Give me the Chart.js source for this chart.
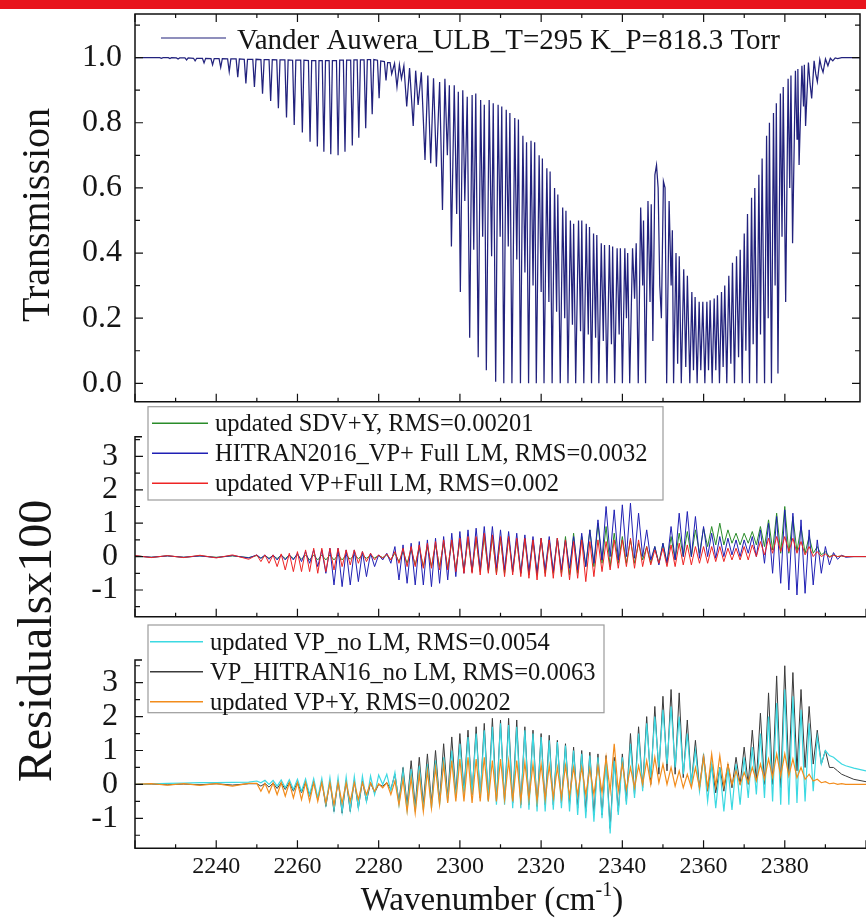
<!DOCTYPE html>
<html>
<head>
<meta charset="utf-8">
<script src="https://cdn.jsdelivr.net/npm/chart.js@4.4.0/dist/chart.umd.min.js"></script>
<style>
  html, body { margin: 0; padding: 0; background: #fff; }
  #wrap { position: relative; width: 866px; height: 919px; overflow: hidden; }
  #redbar { position: absolute; left: 0; top: 0; width: 866px; height: 9px; background: #e8141c; }
  canvas { position: absolute; left: 0; }
  #c1 { top: 0; }
  #c2 { top: 400px; }
  #c3 { top: 616px; }
</style>
</head>
<body>
<div id="wrap">
  <canvas id="c1" width="866" height="405"></canvas>
  <canvas id="c2" width="866" height="519"></canvas>
  <canvas id="c3" width="866" height="303"></canvas>
  <div id="redbar"></div>
</div>
<script>
const serif = "'Liberation Serif', 'Times New Roman', serif";

const transWn = [
  2220.0,
  2226.1, 2226.5, 2226.9, 2228.2, 2228.6, 2229.0, 2230.2, 2230.6, 2231.0,
  2232.3, 2232.7, 2233.1, 2234.4, 2234.8, 2235.2, 2236.6, 2237.0, 2237.4,
  2238.7, 2239.1, 2239.5, 2240.7, 2241.1, 2241.5, 2242.8, 2243.2, 2243.6,
  2244.9, 2245.3, 2245.7, 2246.9, 2247.3, 2247.7, 2249.0, 2249.4, 2249.8,
  2251.0, 2251.4, 2251.8, 2253.0, 2253.4, 2253.8, 2254.9, 2255.3, 2255.7,
  2256.9, 2257.3, 2257.7, 2258.8, 2259.2, 2259.6, 2260.8, 2261.2, 2261.6,
  2262.7, 2263.1, 2263.5, 2264.5, 2264.9, 2265.3, 2266.1, 2266.5, 2266.9,
  2267.8, 2268.2, 2268.6, 2269.6, 2270.0, 2270.4, 2271.3, 2271.7, 2272.1,
  2273.1, 2273.5, 2273.9, 2274.7, 2275.1, 2275.5, 2276.4, 2276.8, 2277.2,
  2278.0, 2278.4, 2278.8, 2279.7, 2280.1, 2280.5, 2281.4, 2281.8, 2282.2,
  2282.8, 2283.2,
  2283.9, 2284.5, 2285.1, 2285.6, 2286.2, 2286.9, 2287.6, 2288.5, 2289.1, 2289.7,
  2290.5, 2291.4, 2292.1, 2292.8, 2293.5, 2294.2, 2295.0, 2295.7, 2296.3, 2296.9,
  2297.4, 2297.9, 2298.6, 2299.2, 2299.6, 2300.1, 2300.7, 2301.2, 2301.8, 2302.4,
  2303.0, 2303.4, 2303.9, 2304.5, 2305.1, 2305.6, 2306.0, 2306.5, 2307.2, 2307.8,
  2308.2, 2308.8, 2309.4, 2309.9, 2310.3, 2310.8, 2311.4, 2311.9, 2312.3, 2312.8,
  2313.5, 2314.0, 2314.4, 2314.9, 2315.5, 2316.0, 2316.4, 2316.9, 2317.5, 2318.0,
  2318.4, 2318.8, 2319.5, 2320.0, 2320.3, 2320.7, 2321.4, 2321.9, 2322.2, 2322.7,
  2323.3, 2323.8, 2324.1, 2324.7, 2325.3, 2325.8, 2326.1, 2326.6, 2327.2, 2327.7,
  2328.0, 2328.5, 2329.2, 2329.7, 2330.0, 2330.5, 2331.1, 2331.6, 2331.9, 2332.4,
  2332.9, 2333.4, 2333.7, 2334.2, 2334.8, 2335.3, 2335.6, 2336.2, 2336.8, 2337.3,
  2337.6, 2338.1, 2338.7, 2339.2, 2339.5, 2340.0, 2340.6, 2341.0, 2341.3, 2341.8,
  2342.5, 2343.0, 2343.4, 2343.9, 2344.5, 2345.0, 2345.2, 2345.7, 2346.3, 2346.8,
  2347.1, 2347.5, 2348.0, 2348.4, 2348.8, 2349.2, 2349.6, 2350.1, 2350.5, 2350.9,
  2351.5, 2352.0, 2352.3, 2352.6,
  2353.2, 2353.6, 2354.0, 2354.5, 2355.1, 2355.6, 2356.0, 2356.6, 2357.1, 2357.5,
  2357.9, 2358.4, 2358.9, 2359.3, 2359.8, 2360.3, 2360.8, 2361.2, 2361.6, 2362.1,
  2362.6, 2363.0, 2363.4, 2363.9, 2364.4, 2364.8, 2365.2, 2365.7, 2366.2, 2366.7,
  2367.1, 2367.6, 2368.1, 2368.6, 2369.0, 2369.5, 2370.0, 2370.4, 2370.8, 2371.3,
  2371.8, 2372.2, 2372.6, 2373.1, 2373.6, 2374.0, 2374.4, 2375.0, 2375.5, 2375.9,
  2376.2, 2376.7, 2377.2, 2377.6, 2377.9, 2378.3, 2378.9, 2379.3, 2379.6, 2380.2,
  2380.8, 2381.2, 2381.5, 2381.9, 2382.6, 2383.0, 2383.2, 2383.5, 2384.2, 2384.6,
  2384.8, 2385.1, 2385.8, 2386.2, 2386.6, 2387.2, 2387.6, 2388.0, 2388.6, 2389.0,
  2389.4, 2390.0, 2390.6, 2391.2, 2391.8, 2392.4, 2393.0, 2394.0, 2400.0
];
const transT = [
  1.000,
  1.000, 0.998, 1.000, 1.000, 0.997, 1.000, 0.999, 0.996, 0.999,
  0.999, 0.993, 0.999, 0.998, 0.990, 0.998, 0.998, 0.984, 0.998,
  0.997, 0.978, 0.997, 0.997, 0.970, 0.997, 0.996, 0.957, 0.996,
  0.996, 0.940, 0.996, 0.995, 0.921, 0.995, 0.995, 0.910, 0.995,
  0.994, 0.889, 0.994, 0.994, 0.867, 0.994, 0.993, 0.845, 0.993,
  0.993, 0.816, 0.993, 0.992, 0.793, 0.992, 0.992, 0.770, 0.992,
  0.991, 0.742, 0.991, 0.991, 0.727, 0.991, 0.991, 0.711, 0.991,
  0.991, 0.703, 0.991, 0.991, 0.700, 0.992, 0.992, 0.711, 0.992,
  0.992, 0.730, 0.993, 0.993, 0.754, 0.993, 0.993, 0.783, 0.994,
  0.994, 0.826, 0.994, 0.992, 0.875, 0.990, 0.988, 0.930, 0.985,
  0.985, 0.950,
  0.982, 0.910, 0.978, 0.935, 0.975, 0.850, 0.968, 0.790, 0.960, 0.855,
  0.955, 0.686, 0.945, 0.676, 0.937, 0.665, 0.925, 0.532, 0.935, 0.700,
  0.915, 0.420, 0.915, 0.520, 0.895, 0.280, 0.900, 0.560, 0.880, 0.140,
  0.885, 0.410, 0.890, 0.080, 0.870, 0.450, 0.855, 0.040, 0.870, 0.390,
  0.860, 0.005, 0.855, 0.450, 0.850, 0.000, 0.840, 0.420, 0.830, 0.000,
  0.815, 0.380, 0.810, 0.000, 0.760, 0.340, 0.740, 0.000, 0.745, 0.300,
  0.740, 0.000, 0.700, 0.280, 0.690, 0.000, 0.660, 0.250, 0.650, 0.000,
  0.600, 0.220, 0.580, 0.000, 0.540, 0.200, 0.530, 0.000, 0.500, 0.180,
  0.490, 0.000, 0.500, 0.160, 0.500, 0.000, 0.490, 0.150, 0.480, 0.000,
  0.460, 0.140, 0.455, 0.000, 0.430, 0.130, 0.425, 0.000, 0.425, 0.120,
  0.420, 0.000, 0.415, 0.150, 0.415, 0.000, 0.415, 0.200, 0.400, 0.000,
  0.415, 0.260, 0.430, 0.000, 0.540, 0.300, 0.500, 0.000, 0.560, 0.250,
  0.550, 0.130, 0.640, 0.670, 0.600, 0.300, 0.200, 0.620, 0.600, 0.000,
  0.560, 0.300, 0.470, 0.000,
  0.400, 0.060, 0.390, 0.000, 0.350, 0.050, 0.330, 0.000, 0.280, 0.040,
  0.265, 0.000, 0.250, 0.040, 0.250, 0.000, 0.250, 0.040, 0.255, 0.000,
  0.260, 0.040, 0.270, 0.000, 0.280, 0.050, 0.300, 0.000, 0.330, 0.060,
  0.370, 0.000, 0.390, 0.080, 0.410, 0.000, 0.460, 0.100, 0.520, 0.000,
  0.570, 0.120, 0.600, 0.000, 0.640, 0.150, 0.690, 0.000, 0.760, 0.200,
  0.800, 0.000, 0.830, 0.300, 0.860, 0.030, 0.890, 0.450, 0.910, 0.250,
  0.935, 0.600, 0.945, 0.430, 0.960, 0.750, 0.965, 0.670, 0.975, 0.850,
  0.978, 0.790, 0.985, 0.920, 0.875, 0.990, 0.950, 0.926, 0.994, 0.970,
  0.955, 0.996, 0.975, 0.998, 0.990, 0.999, 0.997, 1.000, 1.000
];

// Residual panels: shared wavenumber grid
const resWn = [
  2220, 2224, 2228, 2232, 2236, 2240, 2244, 2248,
  2250, 2251, 2252, 2253, 2254, 2255, 2256, 2257, 2258, 2259,
  2260, 2261, 2262, 2263, 2264, 2265, 2266, 2267, 2268, 2269,
  2270, 2271, 2272, 2273, 2274, 2275, 2276, 2277, 2278, 2279,
  2280, 2281, 2282, 2283, 2284, 2285, 2286, 2287, 2288, 2289,
  2290, 2291, 2292, 2293, 2294, 2295, 2296, 2297, 2298, 2299,
  2300, 2301, 2302, 2303, 2304, 2305, 2306, 2307, 2308, 2309,
  2310, 2311, 2312, 2313, 2314, 2315, 2316, 2317, 2318, 2319,
  2320, 2321, 2322, 2323, 2324, 2325, 2326, 2327, 2328, 2329,
  2330, 2331, 2332, 2333, 2334, 2335, 2336, 2337, 2338, 2339,
  2340, 2341, 2342, 2343, 2344, 2345, 2346, 2347, 2348, 2349,
  2350, 2351, 2352, 2353, 2354, 2355, 2356, 2357, 2358, 2359,
  2360, 2361, 2362, 2363, 2364, 2365, 2366, 2367, 2368, 2369,
  2370, 2371, 2372, 2373, 2374, 2375, 2376, 2377, 2378, 2379,
  2380, 2381, 2382, 2383, 2384, 2385, 2386, 2387, 2388, 2389,
  2390, 2391, 2392, 2393, 2394, 2395,
  2397, 2400
];

// Middle panel residuals x100
const resSdvY = [
  0.02, -0.02, 0.02, -0.02, 0.02, -0.02, 0.02, -0.03,
  0.03, -0.05, 0.03, -0.05, 0.03, -0.06, 0.04, -0.06, 0.04, -0.06,
  0.05, -0.08, 0.05, -0.1, 0.05, -0.1, 0.05, -0.1, 0.05, -0.1,
  0.05, -0.1, 0.05, -0.08, 0.05, -0.06, 0.04, -0.05, 0.03, -0.04,
  0.03, -0.03, 0.05, -0.1, 0.1, -0.15, 0.15, -0.2, 0.2, -0.25,
  0.25, -0.3, 0.3, -0.3, 0.35, -0.3, 0.4, -0.35, 0.45, -0.4,
  0.5, -0.4, 0.55, -0.45, 0.55, -0.45, 0.6, -0.45, 0.6, -0.5,
  0.55, -0.5, 0.6, -0.45, 0.5, -0.5, 0.55, -0.55, 0.5, -0.55,
  0.55, -0.5, 0.5, -0.5, 0.55, -0.5, 0.6, -0.55, 0.7, -0.5,
  0.6, -0.3, 0.8, -0.3, 1.0, -0.2, 0.9, -0.3, 0.7, -0.2,
  0.6, -0.2, 0.5, -0.2, 0.4, -0.1, 0.3, -0.2, 0.3, -0.2,
  0.4, -0.2, 0.6, -0.1, 0.7, 0.0, 0.75, 0.0, 0.8, 0.1,
  0.85, 0.3, 0.9, 0.35, 1.0, 0.35, 0.8, 0.4, 0.7, 0.35,
  0.7, 0.4, 0.75, 0.35, 0.9, 0.3, 1.1, 0.2, 1.3, 0.1,
  1.5, 0.1, 1.2, 0.15, 0.9, 0.1, 0.6, 0.1, 0.3, 0.05,
  0.15, 0.0, 0.05, 0.0, 0.02, 0.0,
  0.0, 0.0
];
const resHitranFull = [
  0.02, -0.02, 0.02, -0.02, 0.02, -0.03, 0.03, -0.04,
  0.05, -0.05, 0.05, -0.08, 0.05, -0.1, 0.05, -0.1, 0.05, -0.1,
  0.1, -0.15, 0.15, -0.2, 0.2, -0.3, 0.2, -0.5, 0.25, -0.85,
  0.25, -0.9, 0.2, -0.85, 0.2, -0.75, 0.15, -0.6, 0.1, -0.3,
  0.05, -0.1, 0.1, -0.2, 0.3, -0.7, 0.35, -0.8, 0.4, -0.85,
  0.45, -0.85, 0.5, -0.9, 0.55, -0.8, 0.6, -0.7, 0.7, -0.6,
  0.75, -0.5, 0.8, -0.45, 0.85, -0.4, 0.9, -0.4, 0.9, -0.35,
  0.8, -0.4, 0.75, -0.45, 0.7, -0.5, 0.65, -0.45, 0.6, -0.5,
  0.55, -0.4, 0.6, -0.45, 0.55, -0.4, 0.5, -0.35, 0.6, -0.4,
  0.7, -0.3, 0.8, -0.2, 1.1, -0.1, 1.5, 0.0, 1.4, -0.1,
  1.55, 0.0, 1.6, -0.05, 1.3, 0.0, 0.8, -0.1, 0.3, -0.25,
  0.4, -0.2, 0.9, -0.1, 1.3, 0.0, 1.35, 0.0, 1.2, -0.05,
  0.9, 0.0, 0.7, -0.05, 0.6, 0.0, 0.55, 0.05, 0.5, 0.0,
  0.5, 0.1, 0.6, 0.0, 0.8, -0.2, 1.0, -0.5, 1.2, -0.8,
  1.4, -1.0, 1.3, -1.15, 1.1, -1.1, 0.8, -0.85, 0.5, -0.5,
  0.3, -0.25, 0.12, -0.08, 0.04, -0.02,
  0.0, 0.0
];
const resVpFull = [
  0.03, -0.03, 0.03, -0.03, 0.04, -0.04, 0.05, -0.08,
  0.05, -0.15, 0.05, -0.2, 0.05, -0.3, 0.08, -0.4, 0.1, -0.45,
  0.15, -0.45, 0.2, -0.45, 0.25, -0.5, 0.25, -0.45, 0.25, -0.4,
  0.25, -0.3, 0.2, -0.25, 0.2, -0.2, 0.15, -0.15, 0.1, -0.1,
  0.05, -0.05, 0.08, -0.1, 0.15, -0.2, 0.25, -0.3, 0.3, -0.3,
  0.35, -0.35, 0.4, -0.35, 0.45, -0.4, 0.5, -0.4, 0.5, -0.45,
  0.55, -0.5, 0.6, -0.5, 0.6, -0.55, 0.7, -0.5, 0.65, -0.55,
  0.6, -0.6, 0.6, -0.55, 0.55, -0.6, 0.55, -0.65, 0.5, -0.7,
  0.55, -0.6, 0.5, -0.65, 0.55, -0.6, 0.5, -0.7, 0.45, -0.65,
  0.5, -0.75, 0.45, -0.6, 0.5, -0.45, 0.45, -0.4, 0.5, -0.35,
  0.5, -0.3, 0.55, -0.35, 0.5, -0.3, 0.3, -0.25, 0.2, -0.2,
  0.25, -0.3, 0.35, -0.3, 0.4, -0.25, 0.35, -0.25, 0.3, -0.2,
  0.3, -0.2, 0.3, -0.15, 0.3, -0.15, 0.25, -0.1, 0.25, -0.1,
  0.3, -0.1, 0.35, 0.0, 0.45, 0.05, 0.55, 0.1, 0.6, 0.15,
  0.6, 0.15, 0.55, 0.1, 0.45, 0.05, 0.3, 0.0, 0.15, 0.0,
  0.08, -0.02, 0.04, 0.0, 0.02, 0.0,
  0.0, 0.0
];

// Bottom panel residuals x100
const resVpNoLm = [
  0.0, 0.02, 0.03, 0.04, 0.05, 0.05, 0.06, 0.07,
  0.1, 0.05, 0.12, 0.0, 0.12, -0.05, 0.13, -0.1, 0.14, -0.15,
  0.15, -0.2, 0.16, -0.3, 0.17, -0.4, 0.18, -0.6, 0.2, -0.75,
  0.2, -0.8, 0.22, -0.75, 0.23, -0.7, 0.24, -0.5, 0.25, -0.3,
  0.28, 0.0, 0.3, -0.2, 0.35, -0.6, 0.4, -0.75, 0.45, -0.8,
  0.55, -0.75, 0.6, -0.7, 0.7, -0.6, 0.8, -0.5, 1.0, -0.4,
  1.2, -0.3, 1.4, -0.3, 1.5, -0.4, 1.6, -0.5, 1.7, -0.6,
  1.8, -0.6, 1.75, -0.7, 1.7, -0.7, 1.6, -0.75, 1.5, -0.8,
  1.4, -0.8, 1.3, -0.75, 1.25, -0.7, 1.15, -0.8, 1.0, -0.9,
  0.9, -1.0, 0.85, -1.1, 0.8, -1.0, 0.75, -1.45, 0.7, -0.9,
  0.8, -0.6, 1.2, -0.4, 1.5, -0.2, 1.8, 0.2, 2.0, 0.5,
  2.2, 0.6, 2.3, 0.5, 2.0, 0.3, 1.5, 0.0, 1.0, -0.2,
  0.8, -0.5, 0.6, -0.7, 0.5, -0.8, 0.5, -0.75, 0.6, -0.6,
  0.8, -0.4, 1.1, -0.3, 1.5, -0.4, 2.0, -0.5, 2.4, -0.6,
  2.8, -0.6, 2.6, -0.55, 2.2, -0.5, 1.8, -0.2, 1.4, 0.6,
  1.0, 0.85, 0.8, 0.7, 0.6, 0.55,
  0.48, 0.4
];
const resHitranNoLm = [
  0.0, 0.01, -0.01, 0.01, -0.01, 0.02, -0.02, 0.02,
  0.02, -0.05, 0.03, -0.08, 0.04, -0.12, 0.05, -0.15, 0.06, -0.2,
  0.07, -0.25, 0.08, -0.35, 0.1, -0.45, 0.1, -0.65, 0.1, -0.8,
  0.12, -0.85, 0.12, -0.8, 0.12, -0.7, 0.1, -0.5, 0.05, -0.25,
  0.0, -0.05, 0.05, -0.15, 0.3, -0.5, 0.5, -0.6, 0.7, -0.65,
  0.8, -0.6, 0.9, -0.55, 1.0, -0.5, 1.2, -0.4, 1.4, -0.3,
  1.5, -0.2, 1.6, -0.3, 1.7, -0.4, 1.8, -0.45, 1.95, -0.5,
  1.9, -0.5, 1.95, -0.55, 1.9, -0.6, 1.7, -0.6, 1.6, -0.65,
  1.5, -0.6, 1.45, -0.6, 1.3, -0.55, 1.2, -0.6, 1.1, -0.7,
  1.0, -0.8, 0.95, -0.9, 0.9, -0.9, 0.85, -1.3, 0.8, -0.8,
  0.9, -0.5, 1.5, -0.3, 1.7, -0.1, 2.0, 0.0, 2.3, 0.3,
  2.6, 0.4, 2.8, 0.3, 2.7, 0.2, 1.9, 0.0, 1.3, -0.1,
  0.9, -0.2, 0.6, -0.25, 0.5, -0.2, 0.6, -0.1, 0.8, 0.0,
  1.1, 0.0, 1.6, 0.1, 2.1, 0.0, 2.7, 0.0, 3.2, -0.1,
  3.5, 0.3, 3.3, 0.4, 2.8, 0.5, 2.3, 0.6, 1.6, 0.6,
  1.0, 0.5, 0.5, 0.4, 0.3, 0.25,
  0.15, 0.08
];
const resVpY = [
  0.0, 0.02, -0.02, 0.02, -0.03, 0.02, -0.05, 0.03,
  0.03, -0.2, 0.03, -0.25, 0.04, -0.3, 0.05, -0.35, 0.05, -0.4,
  0.05, -0.45, 0.05, -0.5, 0.05, -0.5, 0.05, -0.55, 0.05, -0.6,
  0.05, -0.55, 0.05, -0.5, 0.05, -0.45, 0.05, -0.3, 0.05, -0.2,
  0.02, -0.1, 0.05, -0.3, 0.1, -0.6, 0.15, -0.8, 0.2, -0.85,
  0.3, -0.8, 0.4, -0.7, 0.5, -0.6, 0.6, -0.55, 0.7, -0.5,
  0.75, -0.5, 0.8, -0.55, 0.75, -0.5, 0.8, -0.5, 0.7, -0.5,
  0.75, -0.45, 0.7, -0.5, 0.7, -0.5, 0.65, -0.45, 0.6, -0.5,
  0.6, -0.45, 0.55, -0.4, 0.5, -0.4, 0.55, -0.35, 0.5, -0.3,
  0.5, -0.3, 0.45, -0.3, 0.55, -0.25, 0.8, -0.2, 1.2, -0.2,
  0.6, -0.15, 0.5, -0.1, 0.55, 0.0, 0.7, 0.0, 0.8, 0.05,
  0.6, 0.0, 0.5, -0.05, 0.4, -0.1, 0.3, -0.1, 0.5, -0.1,
  0.8, -0.1, 0.9, -0.05, 0.85, -0.05, 0.6, 0.0, 0.4, 0.0,
  0.35, 0.05, 0.5, 0.1, 0.6, 0.15, 0.75, 0.2, 0.9, 0.25,
  0.9, 0.25, 0.75, 0.2, 0.5, 0.15, 0.3, 0.1, 0.15, 0.05,
  0.08, 0.02, 0.04, 0.0, 0.02, 0.0,
  0.0, 0.0
];

// tick labels
const xTickVals = [2240, 2260, 2280, 2300, 2320, 2340, 2360, 2380];
const transTicks = [0.0, 0.2, 0.4, 0.6, 0.8, 1.0];
const resTicks = [-1, 0, 1, 2, 3];

function pts(xs, ys) {
  return xs.map((x, i) => ({ x: x, y: ys[i] }));
}

// axis frame with inward ticks (Origin style)
const framePlugin = {
  id: 'frame',
  afterDatasetsDraw(chart, args, o) {
    const { ctx, chartArea: a, scales } = chart;
    const xs = scales.x, ys = scales.y;
    ctx.save();
    ctx.strokeStyle = '#111';
    ctx.lineWidth = 1.5;
    ctx.beginPath();
    if (o.box) {
      ctx.rect(a.left, a.top, a.right - a.left, a.bottom - a.top);
    } else {
      ctx.moveTo(a.left + 7, a.top);
      ctx.lineTo(a.left, a.top);
      ctx.lineTo(a.left, a.bottom);
      ctx.lineTo(a.right, a.bottom);
    }
    ctx.stroke();

    ctx.lineWidth = 1.2;
    ctx.beginPath();
    for (let v = Math.ceil(xs.min / o.xStep) * o.xStep; v <= xs.max; v += o.xStep) {
      const px = xs.getPixelForValue(v);
      const len = (v % o.xMajor === 0) ? 8 : 4;
      ctx.moveTo(px, a.bottom); ctx.lineTo(px, a.bottom - len);
      if (o.box) { ctx.moveTo(px, a.top); ctx.lineTo(px, a.top + len); }
    }
    const k0 = Math.ceil(ys.min / o.yStep - 1e-6);
    for (let k = k0; k * o.yStep <= ys.max + 1e-9; k++) {
      const v = k * o.yStep;
      const py = ys.getPixelForValue(v);
      const r = v / o.yMajor;
      const len = Math.abs(r - Math.round(r)) < 1e-6 ? 8 : 5;
      ctx.moveTo(a.left, py); ctx.lineTo(a.left + len, py);
      if (o.box) { ctx.moveTo(a.right, py); ctx.lineTo(a.right - len, py); }
    }
    ctx.stroke();
    ctx.restore();
  }
};

// per-panel legend + axis titles
const annotPlugin = {
  id: 'annot',
  afterDraw(chart, args, o) {
    const ctx = chart.ctx;
    ctx.save();
    if (o.legend) {
      const L = o.legend;
      if (L.box) {
        ctx.fillStyle = '#fff';
        ctx.fillRect(L.box[0], L.box[1], L.box[2], L.box[3]);
        ctx.strokeStyle = '#9c9c9c';
        ctx.lineWidth = 1.2;
        ctx.strokeRect(L.box[0], L.box[1], L.box[2], L.box[3]);
      }
      ctx.font = L.font + 'px ' + serif;
      ctx.textBaseline = 'alphabetic';
      ctx.textAlign = 'left';
      L.order.forEach((idx, k) => {
        const ds = chart.data.datasets[idx];
        const y = L.rowY + k * L.rowGap;
        ctx.strokeStyle = ds.legendColor || ds.borderColor;
        ctx.lineWidth = 1.6;
        ctx.beginPath(); ctx.moveTo(L.x0, y); ctx.lineTo(L.x1, y); ctx.stroke();
        ctx.fillStyle = '#151515';
        ctx.fillText(ds.label, L.textX, y + L.base);
      });
    }
    (o.titles || []).forEach(t => {
      ctx.fillStyle = '#151515';
      ctx.font = t.size + 'px ' + serif;
      ctx.textAlign = 'center';
      ctx.textBaseline = 'middle';
      ctx.save();
      ctx.translate(t.x, t.y);
      if (t.rot) ctx.rotate(-Math.PI / 2);
      ctx.fillText(t.text, 0, 0);
      ctx.restore();
    });
    if (o.xTitle) {
      const t = o.xTitle;
      ctx.fillStyle = '#151515';
      ctx.textBaseline = 'alphabetic';
      ctx.textAlign = 'left';
      ctx.font = t.size + 'px ' + serif;
      const w1 = ctx.measureText(t.main).width;
      const supFont = Math.round(t.size * 0.6) + 'px ' + serif;
      ctx.font = supFont;
      const w2 = ctx.measureText(t.sup).width;
      ctx.font = t.size + 'px ' + serif;
      const w3 = ctx.measureText(t.end).width;
      let x = t.cx - (w1 + w2 + w3) / 2;
      ctx.fillText(t.main, x, t.y);
      x += w1;
      ctx.font = supFont;
      ctx.fillText(t.sup, x, t.y - t.size * 0.42);
      x += w2;
      ctx.font = t.size + 'px ' + serif;
      ctx.fillText(t.end, x, t.y);
    }
    ctx.restore();
  }
};

function yScale(min, max, tickVals, fmt, pad) {
  return {
    type: 'linear', min: min, max: max,
    grid: { display: false, drawTicks: false }, border: { display: false },
    afterFit: s => { s.width = 135; s.paddingTop = 0; s.paddingBottom = 0; },
    afterBuildTicks: s => { s.ticks = tickVals.map(v => ({ value: v })); },
    ticks: {
      padding: pad, color: '#151515',
      font: { family: serif, size: 32 },
      callback: fmt
    }
  };
}

function lineDs(label, xs, ys, color, order, width) {
  return {
    label: label,
    data: pts(xs, ys),
    borderColor: color,
    borderWidth: width || 1,
    pointRadius: 0,
    tension: 0,
    fill: false,
    order: order
  };
}

const common = {
  responsive: false,
  animation: false,
  events: []
};

// 1. Transmission panel
new Chart(document.getElementById('c1'), {
  type: 'line',
  data: {
    datasets: [
      Object.assign(lineDs('Vander Auwera_ULB_T=295 K_P=818.3 Torr', transWn, transT, '#22227d', 0, 1.25),
        { legendColor: '#6a6aa6' })
    ]
  },
  options: Object.assign({}, common, {
    layout: { padding: { left: 0, right: 6, top: 14, bottom: 3.3 } },
    scales: {
      x: { type: 'linear', display: false, min: 2220, max: 2398.5 },
      y: yScale(-0.0565, 1.134, transTicks, v => v.toFixed(1), 13)
    },
    plugins: {
      legend: { display: false }, tooltip: { enabled: false },
      frame: { box: true, xStep: 10, xMajor: 20, yStep: 0.1, yMajor: 0.2 },
      annot: {
        legend: { order: [0], rowY: 38, rowGap: 0, x0: 161, x1: 226, textX: 237, base: 11, font: 29 },
        titles: [{ text: 'Transmission', x: 38, y: 215, size: 40, rot: true }]
      }
    }
  }),
  plugins: [framePlugin, annotPlugin]
});

// 2. Residuals, Full LM models
new Chart(document.getElementById('c2'), {
  type: 'line',
  data: {
    datasets: [
      lineDs('updated SDV+Y, RMS=0.00201', resWn, resSdvY, '#2a8c2a', 2),
      lineDs('HITRAN2016_VP+ Full LM, RMS=0.0032', resWn, resHitranFull, '#2020b4', 1),
      lineDs('updated VP+Full LM, RMS=0.002', resWn, resVpFull, '#ee2424', 0)
    ]
  },
  options: Object.assign({}, common, {
    layout: { padding: { left: 0, right: 0, top: 36.7, bottom: 302.3 } },
    scales: {
      x: { type: 'linear', display: false, min: 2220, max: 2400 },
      y: yScale(-1.8, 3.59, resTicks, v => String(v), 17)
    },
    plugins: {
      legend: { display: false }, tooltip: { enabled: false },
      frame: { box: false, xStep: 10, xMajor: 20, yStep: 0.5, yMajor: 1 },
      annot: {
        legend: { box: [148, 6.7, 515, 93.3], order: [0, 1, 2], rowY: 23.3, rowGap: 30, x0: 152, x1: 208, textX: 215, base: 8, font: 24.5 },
        titles: [{ text: 'Residualsx100', x: 38, y: 241, size: 48, rot: true }]
      }
    }
  }),
  plugins: [framePlugin, annotPlugin]
});

// 3. Residuals, no LM / Y models
new Chart(document.getElementById('c3'), {
  type: 'line',
  data: {
    datasets: [
      lineDs('updated VP_no LM, RMS=0.0054', resWn, resVpNoLm, '#3cd9e2', 1, 1.2),
      lineDs('VP_HITRAN16_no LM, RMS=0.0063', resWn, resHitranNoLm, '#3b3b3b', 2),
      lineDs('updated VP+Y, RMS=0.00202', resWn, resVpY, '#f28c1c', 0, 1.2)
    ]
  },
  options: Object.assign({}, common, {
    layout: { padding: { left: 0, right: 0, top: 44, bottom: 0 } },
    scales: {
      x: {
        type: 'linear', min: 2220, max: 2400,
        grid: { display: false, drawTicks: false }, border: { display: false },
        afterFit: s => { s.height = 70.7; s.paddingLeft = 0; s.paddingRight = 0; },
        afterBuildTicks: s => { s.ticks = xTickVals.map(v => ({ value: v })); },
        ticks: {
          autoSkip: false, maxRotation: 0, minRotation: 0, padding: 4,
          color: '#151515', font: { family: serif, size: 24 },
          callback: v => String(v)
        }
      },
      y: yScale(-1.885, 3.67, resTicks, v => String(v), 17)
    },
    plugins: {
      legend: { display: false }, tooltip: { enabled: false },
      frame: { box: false, xStep: 10, xMajor: 20, yStep: 0.5, yMajor: 1 },
      annot: {
        legend: { box: [148, 9, 456, 87.7], order: [0, 1, 2], rowY: 25.7, rowGap: 30, x0: 150, x1: 203, textX: 210, base: 8, font: 24.5 },
        xTitle: { main: 'Wavenumber (cm', sup: '-1', end: ')', cx: 492, y: 294, size: 33 }
      }
    }
  }),
  plugins: [framePlugin, annotPlugin]
});
</script>
</body>
</html>
